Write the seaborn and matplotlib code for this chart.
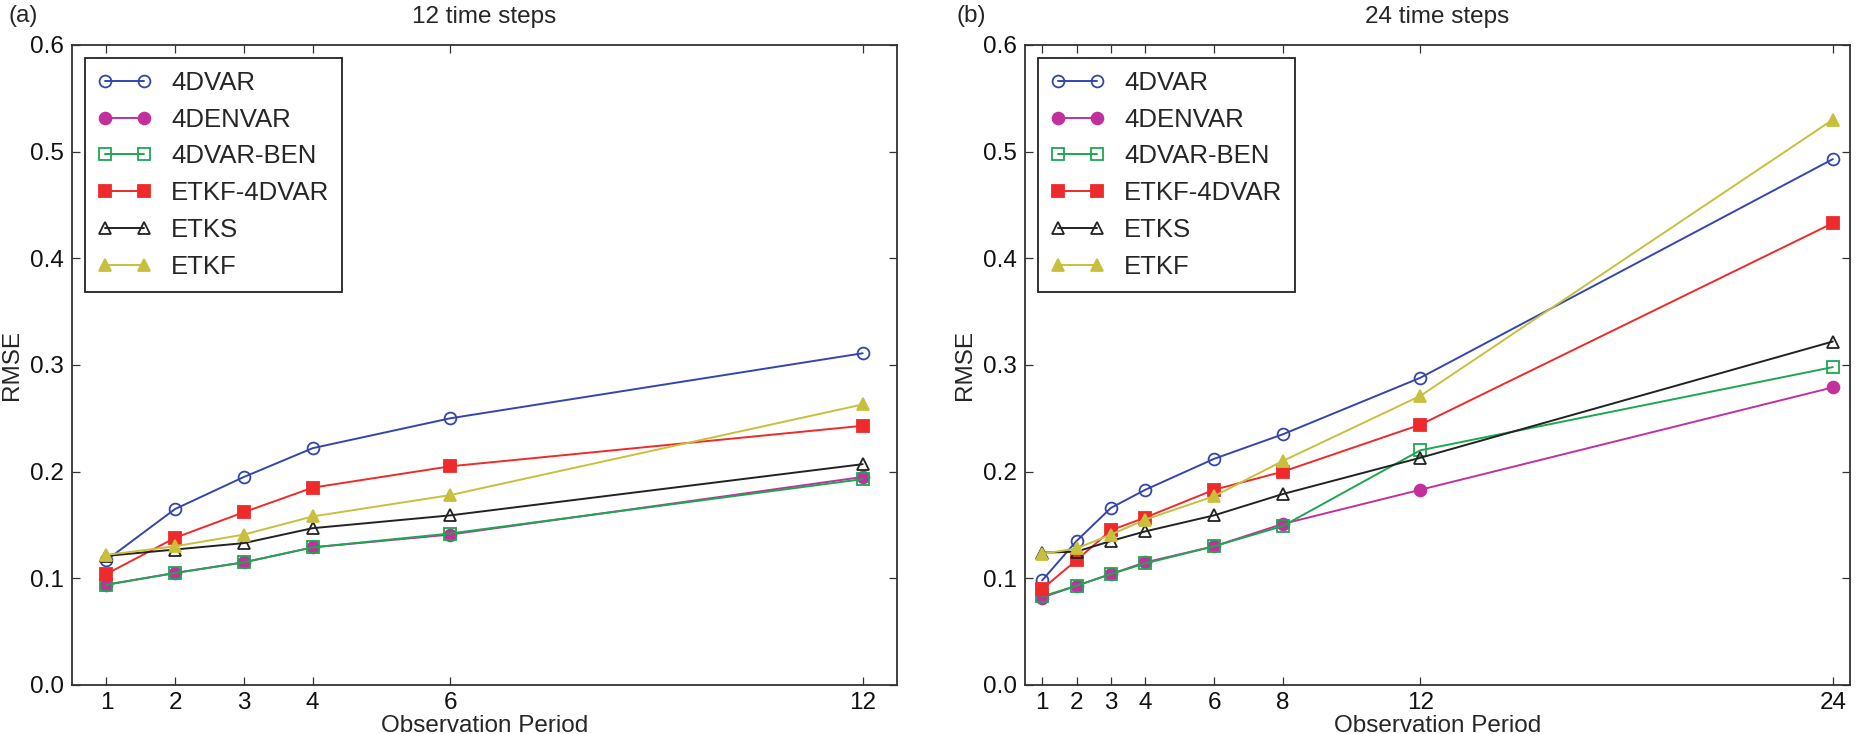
import matplotlib
matplotlib.use("Agg")
import matplotlib.pyplot as plt
import seaborn as sns
import pandas as pd

# ---------------- data ----------------
methods = ["4DVAR", "4DENVAR", "4DVAR-BEN", "ETKF-4DVAR", "ETKS", "ETKF"]

periods_12 = [1, 2, 3, 4, 6, 12]
rmse_12_4dvar = [0.117, 0.165, 0.195, 0.222, 0.250, 0.311]
rmse_12_4denvar = [0.094, 0.105, 0.115, 0.129, 0.141, 0.195]
rmse_12_4dvarben = [0.094, 0.105, 0.115, 0.129, 0.142, 0.193]
rmse_12_etkf4dvar = [0.104, 0.138, 0.162, 0.185, 0.205, 0.243]
rmse_12_etks = [0.121, 0.127, 0.133, 0.147, 0.159, 0.207]
rmse_12_etkf = [0.122, 0.130, 0.141, 0.158, 0.178, 0.263]

periods_24 = [1, 2, 3, 4, 6, 8, 12, 24]
rmse_24_4dvar = [0.098, 0.135, 0.166, 0.183, 0.212, 0.235, 0.288, 0.493]
rmse_24_4denvar = [0.082, 0.093, 0.104, 0.115, 0.130, 0.151, 0.183, 0.279]
rmse_24_4dvarben = [0.083, 0.093, 0.104, 0.114, 0.130, 0.149, 0.220, 0.298]
rmse_24_etkf4dvar = [0.090, 0.117, 0.145, 0.157, 0.183, 0.200, 0.244, 0.433]
rmse_24_etks = [0.124, 0.125, 0.135, 0.144, 0.159, 0.179, 0.213, 0.322]
rmse_24_etkf = [0.123, 0.128, 0.141, 0.155, 0.177, 0.210, 0.271, 0.530]

yticks = [0.0, 0.1, 0.2, 0.3, 0.4, 0.5, 0.6]
titles = ["12 time steps", "24 time steps"]
panel_tags = ["(a)", "(b)"]

# ---------------- styles ----------------
colors = ["#3446ae", "#c2309c", "#1ea653", "#ee2a2b", "#222222", "#c8c03c"]
markers = ["o", "o", "s", "s", "^", "^"]
filled = [False, True, False, True, False, True]

sns.set_style("ticks")
plt.rcParams["font.family"] = ["Liberation Sans", "DejaVu Sans"]
plt.rcParams.update({
    "font.size": 17.5,
    "xtick.direction": "in",
    "ytick.direction": "in",
    "xtick.top": True,
    "ytick.right": True,
    "xtick.major.size": 5.5,
    "ytick.major.size": 5.5,
    "xtick.major.width": 0.9,
    "ytick.major.width": 0.9,
    "xtick.color": "#333333",
    "ytick.color": "#333333",
    "xtick.labelcolor": "#111111",
    "ytick.labelcolor": "#111111",
    "axes.edgecolor": "#333333",
    "axes.linewidth": 1.3,
})

fig = plt.figure(figsize=(18.61, 7.34), dpi=100)
fig.subplots_adjust(left=0.0387, right=0.9941, bottom=0.0668, top=0.9387, wspace=0.155)
axes = fig.subplots(1, 2)

panels = [
    (periods_12, [rmse_12_4dvar, rmse_12_4denvar, rmse_12_4dvarben,
                  rmse_12_etkf4dvar, rmse_12_etks, rmse_12_etkf]),
    (periods_24, [rmse_24_4dvar, rmse_24_4denvar, rmse_24_4dvarben,
                  rmse_24_etkf4dvar, rmse_24_etks, rmse_24_etkf]),
]

for i, (ax, (xs, series)) in enumerate(zip(axes, panels)):
    for name, ys, c, m, f in zip(methods, series, colors, markers, filled):
        df = pd.DataFrame({"Observation Period": xs, "RMSE": ys})
        sns.lineplot(data=df, x="Observation Period", y="RMSE", ax=ax,
                     color=c, marker=m, markersize=8.5,
                     markerfacecolor=(c if f else "none"),
                     markeredgecolor=c, markeredgewidth=1.3,
                     linewidth=1.4, label=name)
    ax.set_xlim(0.5, xs[-1] + 0.5)
    ax.set_ylim(0.0, 0.6)
    ax.set_xticks(xs)
    ax.set_xticklabels([str(v) for v in xs])
    ax.set_yticks(yticks)
    ax.set_yticklabels([f"{v:.1f}" for v in yticks])
    ax.tick_params(axis="x", pad=5)
    ax.tick_params(axis="y", pad=6)
    ax.set_xlabel("Observation Period", fontsize=17.5, labelpad=1)
    ax.set_ylabel("RMSE", fontsize=17.5, labelpad=5)
    ax.set_title(titles[i], fontsize=17.5, pad=16)
    leg = ax.legend(loc="upper left", numpoints=2, fontsize=18.5,
                    frameon=True, fancybox=False, framealpha=1.0,
                    edgecolor="#222222", borderaxespad=0.5,
                    borderpad=0.5, handlelength=2.1, handletextpad=0.75,
                    labelspacing=0.5)
    leg.get_frame().set_linewidth(1.3)

fig.text(8 / 1861, 1 - 5 / 734, panel_tags[0], ha="left", va="top", fontsize=17.5)
fig.text(957 / 1861, 1 - 5 / 734, panel_tags[1], ha="left", va="top", fontsize=17.5)

fig.savefig("out.png", dpi=100)
